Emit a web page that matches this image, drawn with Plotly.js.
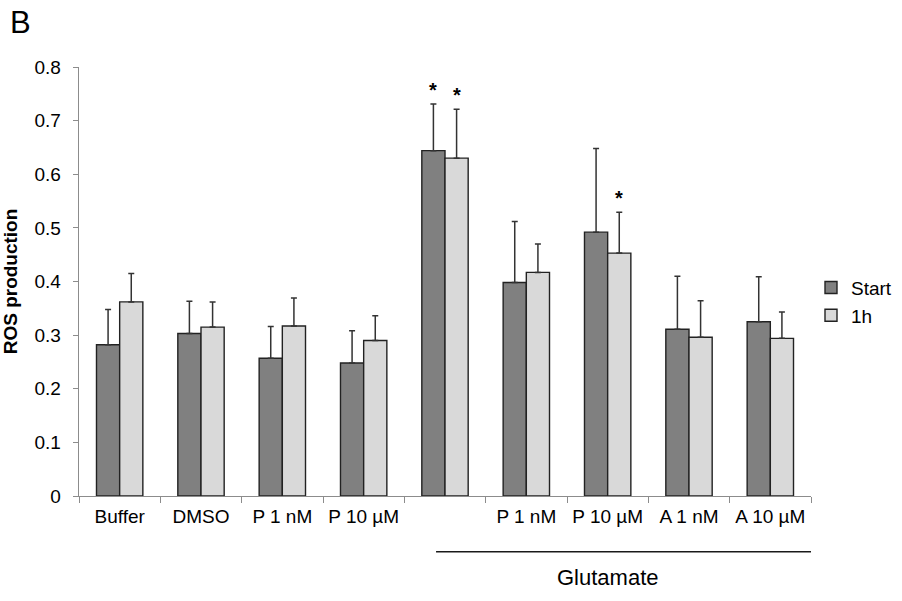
<!DOCTYPE html>
<html>
<head>
<meta charset="utf-8">
<script src="https://cdn.plot.ly/plotly-3.0.1.min.js"></script>
<style>html,body{margin:0;padding:0;background:#fff}#chart{width:902px;height:601px}</style>
</head>
<body>
<div id="chart"></div>
<script>
const categories = ["Buffer", "DMSO", "P 1 nM", "P 10 µM", "", "P 1 nM", "P 10 µM", "A 1 nM", "A 10 µM"];
const startVals = [0.282, 0.303, 0.257, 0.248, 0.644, 0.398, 0.492, 0.311, 0.325];
const startErr  = [0.066, 0.060, 0.059, 0.060, 0.087, 0.114, 0.156, 0.099, 0.084];
const h1Vals    = [0.362, 0.315, 0.317, 0.290, 0.630, 0.417, 0.453, 0.296, 0.294];
const h1Err     = [0.053, 0.047, 0.052, 0.046, 0.091, 0.053, 0.076, 0.068, 0.049];
const sigStart  = [false, false, false, false, true, false, false, false, false];
const sigH1     = [false, false, false, false, true, false, true, false, false];
const yTicks    = [0, 0.1, 0.2, 0.3, 0.4, 0.5, 0.6, 0.7, 0.8];
const yTickText = ["0", "0.1", "0.2", "0.3", "0.4", "0.5", "0.6", "0.7", "0.8"];
const groupLabel = "Glutamate";
const groupFrom = 4, groupTo = 8;

const xIdx = categories.map((_, i) => i);
const bounds = categories.map((_, i) => i - 0.5).concat([categories.length - 0.5]);
const FONT = "Liberation Sans, Arial, sans-serif";
const bargap = 0.43;
const half = (1 - bargap) / 4;

const errStyle = {type: "data", symmetric: false, arrayminus: categories.map(() => 0),
  color: "#333333", thickness: 1.5, width: 3};

const traces = [
  {type: "bar", name: "Start", x: xIdx, y: startVals,
   marker: {color: "#808080", line: {color: "#222222", width: 1.4}},
   error_y: Object.assign({array: startErr}, errStyle)},
  {type: "bar", name: "1h", x: xIdx, y: h1Vals,
   marker: {color: "#d9d9d9", line: {color: "#222222", width: 1.4}},
   error_y: Object.assign({array: h1Err}, errStyle)},
  {type: "scatter", x: xIdx, y: xIdx.map(() => null), xaxis: "x2", showlegend: false, hoverinfo: "skip"}
];

const annotations = [];
xIdx.forEach(i => {
  if (sigStart[i]) annotations.push({x: i - half, y: startVals[i] + startErr[i], xref: "x", yref: "y",
    text: "<b>*</b>", showarrow: false, yanchor: "bottom", yshift: 1, font: {family: FONT, size: 20, color: "#000"}});
  if (sigH1[i]) annotations.push({x: i + half, y: h1Vals[i] + h1Err[i], xref: "x", yref: "y",
    text: "<b>*</b>", showarrow: false, yanchor: "bottom", yshift: 1, font: {family: FONT, size: 20, color: "#000"}});
});
annotations.push({x: (groupFrom + groupTo) / 2, y: -0.19, xref: "x", yref: "paper", text: groupLabel,
  showarrow: false, yanchor: "middle", font: {family: FONT, size: 22, color: "#000"}});

const layout = {
  width: 902, height: 601,
  paper_bgcolor: "#fff", plot_bgcolor: "#fff",
  margin: {l: 79, r: 91, t: 67, b: 105, autoexpand: false},
  font: {family: FONT, color: "#000"},
  title: {text: "B", x: 10 / 902, xanchor: "left", xref: "container", y: 1 - 22 / 601, yanchor: "middle", yref: "container",
    font: {family: FONT, size: 31, color: "#000"}},
  barmode: "group", bargap: bargap, bargroupgap: 0,
  showlegend: true,
  legend: {x: 1.0, xanchor: "left", y: 0.53, yanchor: "top", font: {family: FONT, size: 19, color: "#000"},
    bgcolor: "rgba(0,0,0,0)", tracegroupgap: 0},
  xaxis: {range: [-0.5, categories.length - 0.5], tickmode: "array", tickvals: bounds, showticklabels: false,
    ticks: "outside", ticklen: 6, tickcolor: "#8c8c8c", tickwidth: 1, showline: true, linecolor: "#8c8c8c", linewidth: 1.3,
    showgrid: false, zeroline: false, fixedrange: true},
  xaxis2: {range: [-0.5, categories.length - 0.5], overlaying: "x", anchor: "y", side: "bottom", tickmode: "array",
    tickvals: xIdx, ticktext: categories, ticks: "", showline: false, showgrid: false, zeroline: false,
    ticklabelstandoff: 7, tickfont: {family: FONT, size: 19, color: "#000"}},
  yaxis: {range: [0, 0.8], tickmode: "array", tickvals: yTicks, ticktext: yTickText,
    ticks: "outside", ticklen: 5, tickcolor: "#8c8c8c", showline: true, linecolor: "#8c8c8c", linewidth: 1.3,
    showgrid: false, zeroline: false, ticklabelstandoff: 8, tickfont: {family: FONT, size: 19, color: "#000"},
    title: {text: "<b>ROS production</b>", standoff: 12, font: {family: FONT, size: 19, color: "#000"}}},
  shapes: [{type: "line", xref: "x", yref: "paper", x0: groupFrom - 0.11, x1: groupTo + 0.5, y0: -0.13, y1: -0.13,
    line: {color: "#1a1a1a", width: 1.5}}],
  annotations: annotations
};

Plotly.newPlot("chart", traces, layout, {displayModeBar: false, staticPlot: true});
</script>
</body>
</html>
